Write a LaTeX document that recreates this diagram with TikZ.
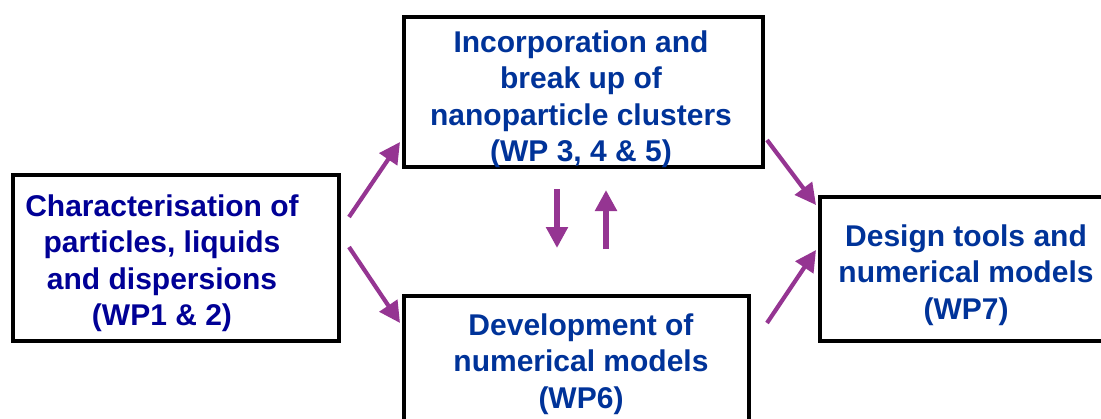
\documentclass[tikz,border=0pt]{standalone}
\usepackage{fontspec}
\setmainfont{Liberation Sans}
\usetikzlibrary{arrows.meta}
\definecolor{flowpurple}{HTML}{953592}
\definecolor{navytext}{HTML}{000096}
\definecolor{bluetext}{HTML}{003399}
\begin{document}
\begin{tikzpicture}[x=1pt,y=-1pt,
  wpbox/.style={draw=black, line width=4pt, fill=white, rectangle, inner sep=0pt},
  wptext/.style={font=\fontsize{30}{36.5}\selectfont\bfseries, align=center, inner sep=0pt},
  flow/.style={draw=flowpurple, line width=4.2pt, -{Triangle[length=21pt,width=21pt]}},
  exchange/.style={flow, line width=5.3pt}
]
\useasboundingbox (0,0) rectangle (1101,418);
\clip (0,0) rectangle (1101,418);

% work-package boxes
\node[wpbox, minimum width=326pt, minimum height=166pt] (L) at (176,258) {};
\node[wpbox, minimum width=359pt, minimum height=150pt] (T) at (583.5,92) {};
\node[wpbox, minimum width=345pt, minimum height=150pt] (B) at (576.5,371) {};
\node[wpbox, minimum width=295pt, minimum height=144pt] (R) at (967.5,269) {};

% box texts
\node[wptext, text=navytext] (Ltxt) at (162,263)
  {Characterisation of\\particles, liquids\\and dispersions\\(WP1 \& 2)};
\node[wptext, text=bluetext] (Ttxt) at (581,99)
  {Incorporation and\\break up of\\nanoparticle clusters\\(WP 3, 4 \& 5)};
\node[wptext, text=bluetext] (Btxt) at (581,364)
  {Development of\\numerical models\\(WP6)};
\node[wptext, text=bluetext] (Rtxt) at (966,275)
  {Design tools and\\numerical models\\(WP7)};

% free ends of the connectors, just outside the source boxes
\coordinate (s1) at ([xshift=8pt,yshift=41pt]L.east);
\coordinate (s2) at ([xshift=8pt,yshift=11pt]L.east);
\coordinate (s3) at ([xshift=2pt,yshift=29pt]T.south east);
\coordinate (s4) at ([xshift=16pt,yshift=-29pt]B.north east);

% connectors
\draw[flow] (s1) -- ([xshift=-2pt,yshift=27pt]T.south west);
\draw[flow] (s2) -- ([xshift=-2pt,yshift=-29pt]B.north west);
\draw[flow] (s3) -- ([xshift=-2pt,yshift=-10pt]R.north west);
\draw[flow] (s4) -- ([xshift=-2pt,yshift=-55pt]R.north west);

% exchange between the two middle work packages
\draw[exchange] ([xshift=-26.5pt,yshift=-20pt]T.south) -- ++(0,59);
\draw[exchange] ([xshift=22.5pt,yshift=-80pt]T.south) -- ++(0,-59);
\end{tikzpicture}
\end{document}
